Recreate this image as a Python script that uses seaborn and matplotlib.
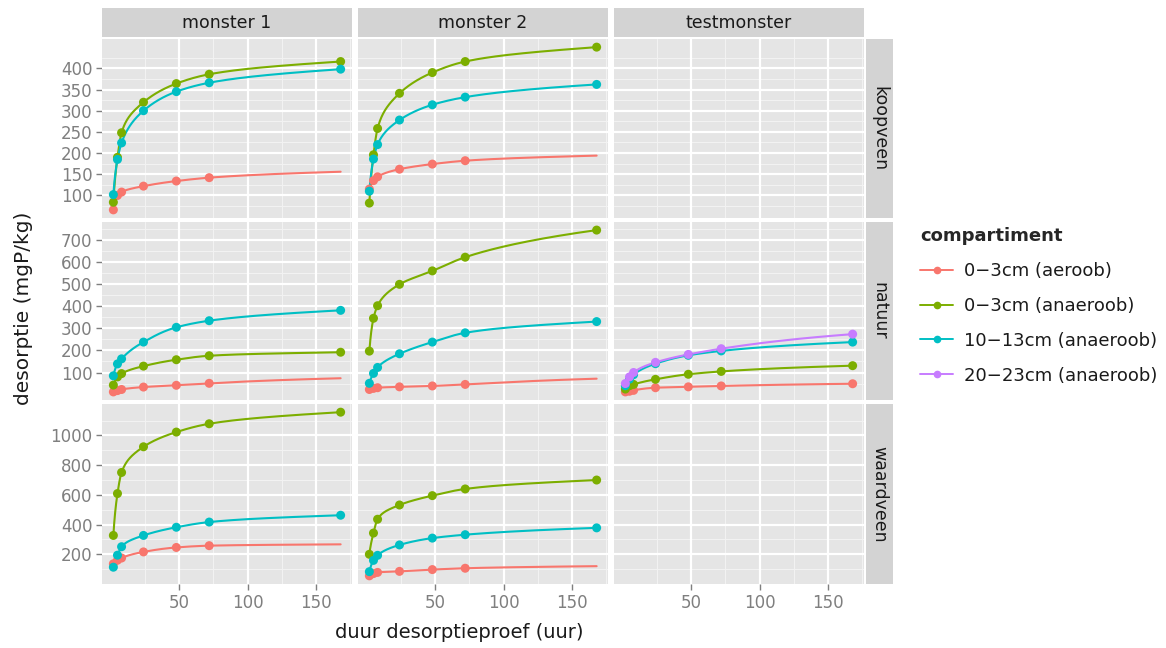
import numpy as np
import pandas as pd
import matplotlib
matplotlib.use("Agg")
import matplotlib.pyplot as plt
from matplotlib.lines import Line2D
import seaborn as sns

# ---------------- data ----------------
tijd = [2, 5, 8, 24, 48, 72, 168]          # duur desorptieproef (uur)
nan = np.nan

compartimenten = ["0\u22123cm (aeroob)", "0\u22123cm (anaeroob)",
                  "10\u221213cm (anaeroob)", "20\u221223cm (anaeroob)"]
kleuren = ["#F8766D", "#7CAE00", "#00BFC4", "#C77CFF"]

monsters = ["monster 1", "monster 2", "testmonster"]
bodems = ["koopveen", "natuur", "waardveen"]

# koopveen
koop_m1_aer = [66, 100, 108, 122, 134, 142, nan]
koop_m1_ana = [84, 190, 248, 320, 364, 386, 416]
koop_m1_10 = [102, 185, 224, 300, 345, 366, 398]
koop_m2_aer = [115, 135, 144, 162, 174, 182, nan]
koop_m2_ana = [82, 196, 258, 341, 390, 416, 450]
koop_m2_10 = [110, 186, 220, 278, 314, 332, 362]
# natuur
nat_m1_aer = [12, 18, 23, 34, 42, 51, nan]
nat_m1_ana = [43, 80, 95, 129, 158, 176, 192]
nat_m1_10 = [85, 139, 162, 238, 305, 335, 382]
nat_m2_aer = [23, 28, 31, 35, 39, 46, nan]
nat_m2_ana = [197, 346, 403, 500, 561, 623, 746]
nat_m2_10 = [51, 96, 123, 185, 238, 280, 331]
nat_t_aer = [12, 15, 19, 31, 35, 39, 49]
nat_t_ana = [25, 40, 46, 69, 92, 105, 131]
nat_t_10 = [40, 70, 90, 140, 178, 198, 238]
nat_t_20 = [50, 80, 100, 146, 182, 208, 274]
# waardveen
waard_m1_aer = [136, 160, 175, 216, 246, 258, nan]
waard_m1_ana = [327, 609, 751, 924, 1023, 1079, 1157]
waard_m1_10 = [113, 194, 251, 327, 382, 417, 463]
waard_m2_aer = [55, 70, 78, 85, 97, 106, nan]
waard_m2_ana = [200, 343, 436, 532, 595, 640, 700]
waard_m2_10 = [83, 159, 193, 263, 309, 332, 378]

# end value (t = 168 h) of the fitted aeroob curve where no point was plotted
aeroob_lijn_eind = {
    ("koopveen", "monster 1"): 156, ("koopveen", "monster 2"): 194,
    ("natuur", "monster 1"): 74, ("natuur", "monster 2"): 72,
    ("waardveen", "monster 1"): 267, ("waardveen", "monster 2"): 120,
}

reeksen = {
    ("koopveen", "monster 1"): [koop_m1_aer, koop_m1_ana, koop_m1_10, None],
    ("koopveen", "monster 2"): [koop_m2_aer, koop_m2_ana, koop_m2_10, None],
    ("natuur", "monster 1"): [nat_m1_aer, nat_m1_ana, nat_m1_10, None],
    ("natuur", "monster 2"): [nat_m2_aer, nat_m2_ana, nat_m2_10, None],
    ("natuur", "testmonster"): [nat_t_aer, nat_t_ana, nat_t_10, nat_t_20],
    ("waardveen", "monster 1"): [waard_m1_aer, waard_m1_ana, waard_m1_10, None],
    ("waardveen", "monster 2"): [waard_m2_aer, waard_m2_ana, waard_m2_10, None],
}

y_ticks = {
    "koopveen": [100, 150, 200, 250, 300, 350, 400],
    "natuur": [100, 200, 300, 400, 500, 600, 700],
    "waardveen": [200, 400, 600, 800, 1000],
}
x_ticks = [50, 100, 150]


# ---------- smooth curve through the values (monotone cubic in ln t) ----------
def smooth_curve(t, y):
    t = np.asarray(t, float)
    y = np.asarray(y, float)
    ok = ~np.isnan(y)
    xk = np.log(t[ok]); yk = y[ok]
    h = np.diff(xk); d = np.diff(yk) / h
    n = len(xk)
    m = np.zeros(n)
    m[0], m[-1] = d[0], d[-1]
    for i in range(1, n - 1):
        if d[i - 1] * d[i] <= 0:
            m[i] = 0
        else:
            w1 = 2 * h[i] + h[i - 1]; w2 = h[i] + 2 * h[i - 1]
            m[i] = (w1 + w2) / (w1 / d[i - 1] + w2 / d[i])
    xq = np.linspace(xk[0], xk[-1], 300)
    yq = np.empty_like(xq)
    for j, x in enumerate(xq):
        i = min(np.searchsorted(xk, x, side="right") - 1, n - 2)
        hh = h[i]; s = (x - xk[i]) / hh
        h00 = 2 * s**3 - 3 * s**2 + 1; h10 = s**3 - 2 * s**2 + s
        h01 = -2 * s**3 + 3 * s**2; h11 = s**3 - s**2
        yq[j] = h00 * yk[i] + h10 * hh * m[i] + h01 * yk[i + 1] + h11 * hh * m[i + 1]
    return np.exp(xq), yq


punten_rows, lijn_rows = [], []
for (bodem, monster), lst in reeksen.items():
    for comp, vals in zip(compartimenten, lst):
        if vals is None:
            continue
        for t, v in zip(tijd, vals):
            if not np.isnan(v):
                punten_rows.append((bodem, monster, comp, t, v))
        lijn_vals = list(vals)
        if np.isnan(lijn_vals[-1]) and comp == compartimenten[0]:
            lijn_vals[-1] = aeroob_lijn_eind[(bodem, monster)]
        tx, ty = smooth_curve(tijd, lijn_vals)
        for a, b in zip(tx, ty):
            lijn_rows.append((bodem, monster, comp, a, b))

cols = ["bodem", "monster", "compartiment", "tijd", "desorptie"]
punten = pd.DataFrame(punten_rows, columns=cols)
lijnen = pd.DataFrame(lijn_rows, columns=cols)

# ---------------- styling ----------------
sns.set_theme(style="darkgrid")
plt.rcParams["font.family"] = ["DejaVu Sans"]

W, H = 1166, 648
fig = plt.figure(figsize=(W / 100, H / 100), dpi=100)
fig.patch.set_facecolor("white")


def px_axes(x0, y0, x1, y1):
    return fig.add_axes([x0 / W, 1 - y1 / H, (x1 - x0) / W, (y1 - y0) / H])


col_x = [(102, 352), (358, 608), (614, 864)]
row_y = [(39, 218), (222, 400), (404, 584)]
strip_top = (8, 37)
strip_right = (866, 893)

palette = dict(zip(compartimenten, kleuren))

tmin, tmax = min(tijd), max(tijd)
xpad = 0.05 * (tmax - tmin)
xlim = (tmin - xpad, tmax + xpad)

for r, bodem in enumerate(bodems):
    rowdat = pd.concat([punten[punten.bodem == bodem], lijnen[lijnen.bodem == bodem]])
    ymin, ymax = rowdat.desorptie.min(), rowdat.desorptie.max()
    ypad = 0.05 * (ymax - ymin)
    ylim = (ymin - ypad, ymax + ypad)
    yt = y_ticks[bodem]
    step = yt[1] - yt[0]
    yminor = [v + step / 2 for v in [yt[0] - step] + yt]
    yminor = [v for v in yminor if ylim[0] < v < ylim[1]]

    for c, monster in enumerate(monsters):
        ax = px_axes(col_x[c][0], row_y[r][0], col_x[c][1], row_y[r][1])
        ax.set_facecolor("#E5E5E5")
        ax.grid(False)
        for v in [25, 75, 125, 175]:
            ax.axvline(v, color="#F2F2F2", lw=0.8, zorder=0.5)
        for v in yminor:
            ax.axhline(v, color="#F2F2F2", lw=0.8, zorder=0.5)
        for v in x_ticks:
            ax.axvline(v, color="white", lw=1.6, zorder=0.6)
        for v in yt:
            ax.axhline(v, color="white", lw=1.6, zorder=0.6)

        pd_sub = punten[(punten.bodem == bodem) & (punten.monster == monster)]
        ld_sub = lijnen[(lijnen.bodem == bodem) & (lijnen.monster == monster)]
        if len(ld_sub):
            sns.lineplot(data=ld_sub, x="tijd", y="desorptie", hue="compartiment",
                         palette=palette, hue_order=compartimenten, lw=1.5,
                         legend=False, ax=ax, zorder=2, sort=False,
                         estimator=None, units="compartiment")
            sns.scatterplot(data=pd_sub, x="tijd", y="desorptie", hue="compartiment",
                            palette=palette, hue_order=compartimenten, s=42,
                            edgecolor="none", linewidth=0, legend=False, ax=ax, zorder=3)
        ax.set_xlim(xlim)
        ax.set_ylim(ylim)
        ax.set_xlabel("")
        ax.set_ylabel("")
        ax.set_xticks(x_ticks)
        ax.set_yticks(yt)
        for sp in ax.spines.values():
            sp.set_visible(False)
        ax.tick_params(axis="both", which="both", length=4, width=1, color="#7F7F7F",
                       labelcolor="#7F7F7F", labelsize=12, pad=3,
                       bottom=(r == 2), left=(c == 0),
                       labelbottom=(r == 2), labelleft=(c == 0))

        if r == 0:
            sax = px_axes(col_x[c][0], strip_top[0], col_x[c][1], strip_top[1])
            sax.set_facecolor("#D3D3D3")
            sax.set_xticks([]); sax.set_yticks([])
            for sp in sax.spines.values():
                sp.set_visible(False)
            sax.text(0.5, 0.5, monster, ha="center", va="center", fontsize=12.5,
                     color="#1A1A1A", transform=sax.transAxes)

    rax = px_axes(strip_right[0], row_y[r][0], strip_right[1], row_y[r][1])
    rax.set_facecolor("#D3D3D3")
    rax.set_xticks([]); rax.set_yticks([])
    for sp in rax.spines.values():
        sp.set_visible(False)
    rax.text(0.5, 0.5, bodem, ha="center", va="center", fontsize=12.5, rotation=270,
             color="#1A1A1A", transform=rax.transAxes)

# axis titles
fig.text(459 / W, 1 - 632 / H, "duur desorptieproef (uur)", ha="center", va="center",
         fontsize=14, color="#1A1A1A")
fig.text(24 / W, 1 - 308 / H, "desorptie (mgP/kg)", ha="center", va="center",
         rotation=90, fontsize=14.5, color="#1A1A1A")

# legend
handles = [Line2D([0], [0], color=k, lw=1.4, marker="o", markersize=4.5) for k in kleuren]
leg = fig.legend(handles, compartimenten, title="compartiment", loc="upper left",
                 bbox_to_anchor=(906 / W, 1 - 213 / H), frameon=False, fontsize=13,
                 title_fontsize=13, handlelength=1.8, handletextpad=0.6,
                 labelspacing=0.93, alignment="left", borderpad=0.3)
leg.get_title().set_fontweight("bold")
for t in leg.get_texts():
    t.set_color("#1A1A1A")

fig.savefig("out.png", dpi=100, facecolor="white")
